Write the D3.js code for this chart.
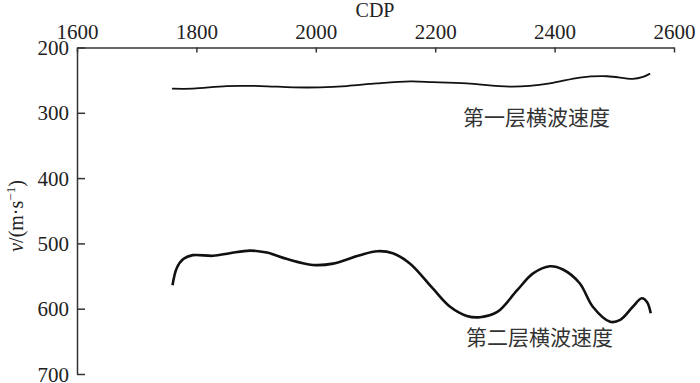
<!DOCTYPE html>
<html>
<head>
<meta charset="utf-8">
<script src="https://cdn.jsdelivr.net/npm/d3@7"></script>
<style>
  body { margin: 0; background: #fff; }
  .axis text { font-family: "Liberation Serif", "DejaVu Serif", serif; font-size: 21px; fill: #222; }
  .axis path, .axis line { stroke: #333; stroke-width: 1.5; }
  .lbl { font-family: "Noto Sans CJK SC", sans-serif; font-size: 21px; fill: #333; }
</style>
</head>
<body>
<script>
// CDP and velocity
var cdp1 = [1759, 1794, 1851, 1907, 1962, 2007, 2052, 2102, 2158, 2196, 2253, 2330, 2392, 2442, 2488, 2531, 2548, 2560];
var vel1 = [263, 263, 259, 259, 261, 261, 259, 255, 252, 253, 255, 260, 255, 246, 244, 248, 245, 240];

var cdp2 = [1760, 1767, 1778, 1794, 1828, 1856, 1890, 1918, 1952, 1995, 2029, 2074, 2103, 2129, 2158, 2196, 2225, 2253, 2275, 2304, 2337, 2364, 2392, 2414, 2442, 2464, 2493, 2510, 2531, 2546, 2555, 2561];
var vel2 = [564, 538, 524, 518, 519, 515, 511, 514, 524, 533, 531, 518, 512, 515, 531, 569, 597, 611, 613, 605, 572, 546, 535, 540, 561, 597, 620, 617, 597, 584, 590, 607];

var xTicks = [1600, 1800, 2000, 2200, 2400, 2600];
var yTicks = [200, 300, 400, 500, 600, 700];

var margin = {top: 47.5, left: 77};
var width = 597, height = 326.5;

var svg = d3.select("body").append("svg")
    .attr("width", 700)
    .attr("height", 383);

var g = svg.append("g")
    .attr("transform", "translate(" + margin.left + "," + margin.top + ")");

var x = d3.scaleLinear().domain([1600, 2600]).range([0, width]);
var y = d3.scaleLinear().domain([200, 700]).range([0, height]);

// top axis, ticks pointing down
g.append("g").attr("class", "axis")
    .call(d3.axisTop(x).tickValues(xTicks).tickFormat(d3.format("d"))
        .tickSizeInner(-5).tickSizeOuter(0).tickPadding(9));

// left axis, ticks pointing right
g.append("g").attr("class", "axis yaxis")
    .call(d3.axisLeft(y).tickValues(yTicks).tickFormat(d3.format("d"))
        .tickSizeInner(-8).tickSizeOuter(0).tickPadding(8));

g.selectAll(".yaxis text").attr("dy", "0.34em");

svg.append("text")
    .attr("x", 375).attr("y", 17)
    .attr("text-anchor", "middle")
    .style("font-family", "Liberation Serif, serif")
    .style("font-size", "20px")
    .attr("fill", "#222")
    .text("CDP");

var yl = svg.append("text")
    .attr("transform", "translate(23,216) rotate(-90)")
    .attr("text-anchor", "middle")
    .style("font-family", "Liberation Serif, serif")
    .style("font-size", "20px")
    .attr("fill", "#222");
yl.append("tspan").style("font-style", "italic").text("v");
yl.append("tspan").text("/(m·s");
yl.append("tspan").attr("dy", -8).style("font-size", "13px").text("−1");
yl.append("tspan").attr("dy", 8).text(")");

var line = d3.line()
    .x(function(d) { return x(d[0]); })
    .y(function(d) { return y(d[1]); })
    .curve(d3.curveCatmullRom);

g.append("path")
    .datum(d3.zip(cdp1, vel1))
    .attr("d", line)
    .attr("fill", "none")
    .attr("stroke", "#111")
    .attr("stroke-width", 1.8);

g.append("path")
    .datum(d3.zip(cdp2, vel2))
    .attr("d", line)
    .attr("fill", "none")
    .attr("stroke", "#111")
    .attr("stroke-width", 2.6);

svg.append("text").attr("class", "lbl")
    .attr("x", 463).attr("y", 125)
    .text("第一层横波速度");

svg.append("text").attr("class", "lbl")
    .attr("x", 466).attr("y", 345)
    .text("第二层横波速度");
</script>
</body>
</html>
